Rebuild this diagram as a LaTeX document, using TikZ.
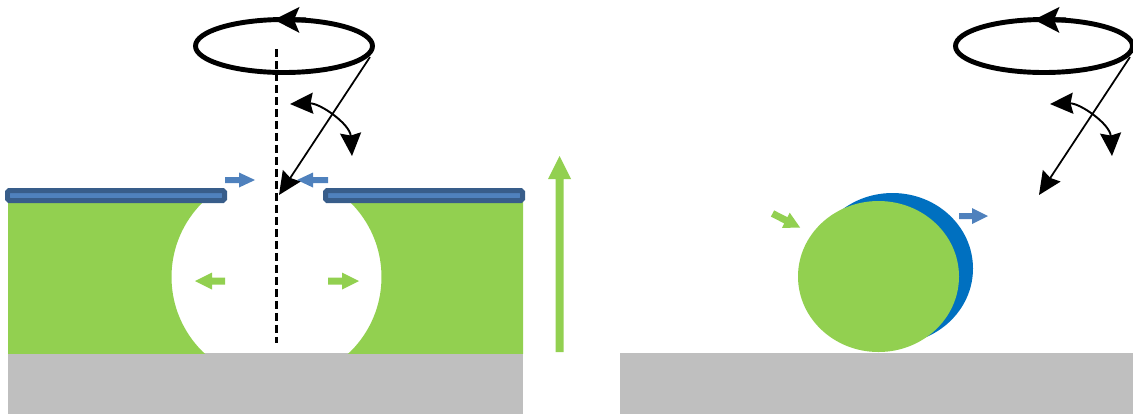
\documentclass[tikz,border=0pt]{standalone}
\usetikzlibrary{arrows.meta}
\definecolor{grn}{HTML}{92D050}
\definecolor{gry}{HTML}{BFBFBF}
\definecolor{barblue}{HTML}{4F81BD}
\definecolor{bardark}{HTML}{385D8A}
\definecolor{dropblue}{HTML}{0070C0}
% block arrow: colour, tail point, angle, length, shaft half-width, head half-width, head length
\newcommand\blkarrow[7]{\fill[#1,shift={#2},rotate=#3] (0,-#5) -- ({#4-#7},-#5) -- ({#4-#7},-#6) -- (#4,0) -- ({#4-#7},#6) -- ({#4-#7},#5) -- (0,#5) -- cycle;}
\tikzset{
  headtip/.tip={Stealth[length=4.6mm,width=4.2mm,inset=0.5mm]},
  spinline/.style={line width=2.8pt},
  tiltarrow/.style={line width=1pt, -headtip},
  swingarrow/.style={line width=1.1pt, headtip-headtip},
  barstyle/.style={fill=barblue, draw=bardark, line width=0.1cm, rounded corners=1pt},
}
\newcommand\spinner[1]{%
\begin{scope}[shift={(#1,0)}]
  \draw[spinline] (284,46) ellipse [x radius=88.5, y radius=26.5];
  \draw[spinline, -{Stealth[length=5mm,width=5mm,inset=1mm]}] (306,19.9) -- (274,19.7);
  \coordinate (top#1) at (370,57);
  \coordinate (tip#1) at (279,195);
  \draw[tiltarrow] (top#1) -- (tip#1);
  \coordinate (sa#1) at (290,104);
  \coordinate (sb#1) at (352,156);
  \draw[swingarrow] (sa#1) .. controls (320,103) and (350,124) .. (sb#1);
\end{scope}}
\begin{document}
\begin{tikzpicture}[x=0.02cm,y=-0.02cm]
\useasboundingbox (0,0) rectangle (1133,414);
% left scene
\fill[gry] (8,353) rectangle (523,414);
\begin{scope}
  \clip (8,198) rectangle (523,353);
  \fill[grn, even odd rule] (0,150) rectangle (540,360) (276.5,277) circle [radius=105];
\end{scope}
\draw[barstyle] (7.5,190.5) rectangle (224.5,200.5);
\draw[barstyle] (325.5,190.5) rectangle (522.5,200.5);
\blkarrow{barblue}{(225,180)}{0}{30}{3}{7.5}{16}
\blkarrow{barblue}{(328,180)}{180}{31}{3}{7.5}{16}
\blkarrow{grn}{(225,281)}{180}{30}{3.5}{8.5}{17}
\blkarrow{grn}{(328,281)}{0}{31}{3.5}{8.5}{17}
\blkarrow{grn}{(559.5,352)}{90}{196}{4}{11.5}{23}
\coordinate (dtop) at (276.5,49);
\coordinate (dbot) at (276.5,343);
\draw[line width=1.2pt, dash pattern=on 0.16cm off 0.08cm] (dtop) -- (dbot);
\spinner{0}
% right scene
\fill[gry] (620,353) rectangle (1133,414);
\fill[dropblue] (892.5,268.5) ellipse [x radius=80.5, y radius=75.5];
\fill[grn] (878.5,276.5) ellipse [x radius=80.5, y radius=75.5];
\blkarrow{barblue}{(959,216)}{0}{29}{3}{8}{16}
\blkarrow{grn}{(772.5,213.5)}{-27}{31}{3.5}{8.5}{16}
\spinner{760}
\end{tikzpicture}
\end{document}
